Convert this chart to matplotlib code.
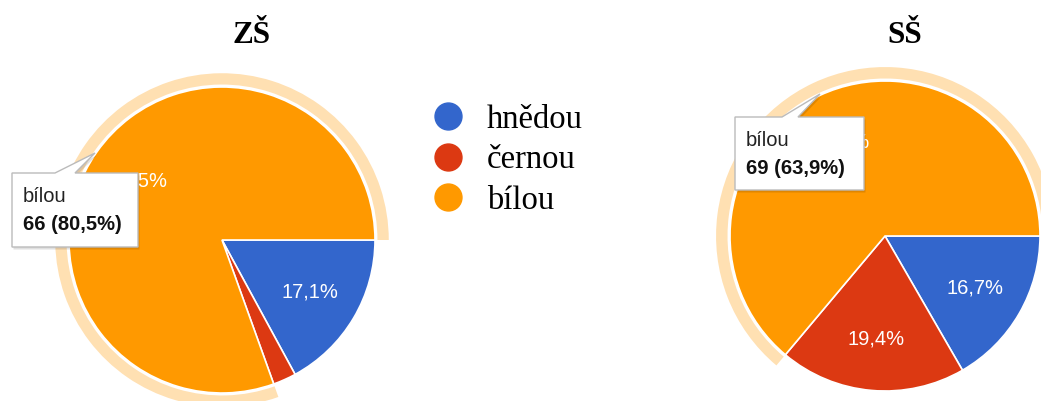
import matplotlib.pyplot as plt
from matplotlib.lines import Line2D
from matplotlib.patches import Wedge, Polygon

# data
categories = ['hnědou', 'černou', 'bílou']
colors = ['#3366CC', '#DC3912', '#FF9900']
zs_counts = [14, 2, 66]
ss_counts = [18, 21, 69]
titles = ['ZŠ', 'SŠ']

W, H = 1041, 401
fig = plt.figure(figsize=(W / 100, H / 100), dpi=100)

sans = ['Liberation Sans', 'DejaVu Sans']
serif = ['Liberation Serif', 'DejaVu Serif']


def pct_label(p):
    if p < 5:
        return ''
    return ('%.1f%%' % p).replace('.', ',')


def draw_pie(counts, cx, cy, R, title, title_x):
    half = 1.25 * R
    ax = fig.add_axes([(cx - half) / W, (H - cy - half) / H, 2 * half / W, 2 * half / H])
    wedges, texts, autotexts = ax.pie(counts, colors=colors, startangle=0, counterclock=False,
                                      autopct=pct_label, pctdistance=0.67,
                                      wedgeprops=dict(edgecolor='white', linewidth=1.2),
                                      textprops=dict(color='white', fontsize=14.5, family=sans))
    # highlight ring around hovered slice (bílou)
    w = wedges[2]
    ring = Wedge((0, 0), 1.09, w.theta1, w.theta2, width=0.074, facecolor='#FFE0B2',
                 edgecolor='none', zorder=0)
    ax.add_patch(ring)
    ax.set_xlim(-1.25, 1.25)
    ax.set_ylim(-1.25, 1.25)
    ax.set_aspect('equal')
    ax.axis('off')
    fig.text(title_x / W, 1 - 43 / H, title, ha='center', va='baseline',
             fontsize=22.5, fontweight='bold', family=serif)
    return ax


draw_pie(zs_counts, 222, 240, 153, titles[0], 251.5)
draw_pie(ss_counts, 885, 236, 155, titles[1], 905)

# legend in the middle
handles = [Line2D([], [], marker='o', linestyle='none', markersize=19.4,
                  markerfacecolor=c, markeredgecolor=c) for c in colors]
fig.legend(handles, categories, loc='upper left', bbox_to_anchor=(432.4 / W, 1 - 104 / H),
           frameon=False, borderpad=0, borderaxespad=0, handlelength=0.95,
           handletextpad=0.72, labelspacing=0.31,
           prop=dict(family=serif, size=23.5))

# tooltips
ov = fig.add_axes([0, 0, 1, 1], zorder=10)
ov.set_xlim(0, W)
ov.set_ylim(H, 0)
ov.axis('off')


def tooltip(x0, y0, x1, y1, pl, pr, peak, name, count, total):
    pts = [(x0, y0), (pl, y0), peak, (pr, y0), (x1, y0), (x1, y1), (x0, y1)]
    shadow = [(x + 1.5, y + 2.5) for x, y in pts]
    ov.add_patch(Polygon(shadow, closed=True, facecolor='black', alpha=0.12, edgecolor='none'))
    ov.add_patch(Polygon(pts, closed=True, facecolor='white', edgecolor='#BBBBBB', linewidth=1))
    pct = ('%.1f' % (100.0 * count / total)).replace('.', ',')
    ov.text(x0 + 11, y0 + 29, name, fontsize=14.5, family=sans, color='#222222', va='baseline')
    ov.text(x0 + 11, y0 + 57, '%d (%s%%)' % (count, pct), fontsize=14.5, family=sans,
            fontweight='bold', color='#111111', va='baseline')


tooltip(12, 173, 138, 247, 55, 75, (95, 153), categories[2], zs_counts[2], sum(zs_counts))
tooltip(735, 117, 864, 190, 782, 798, (820, 94), categories[2], ss_counts[2], sum(ss_counts))

fig.savefig('out.png', dpi=100)
